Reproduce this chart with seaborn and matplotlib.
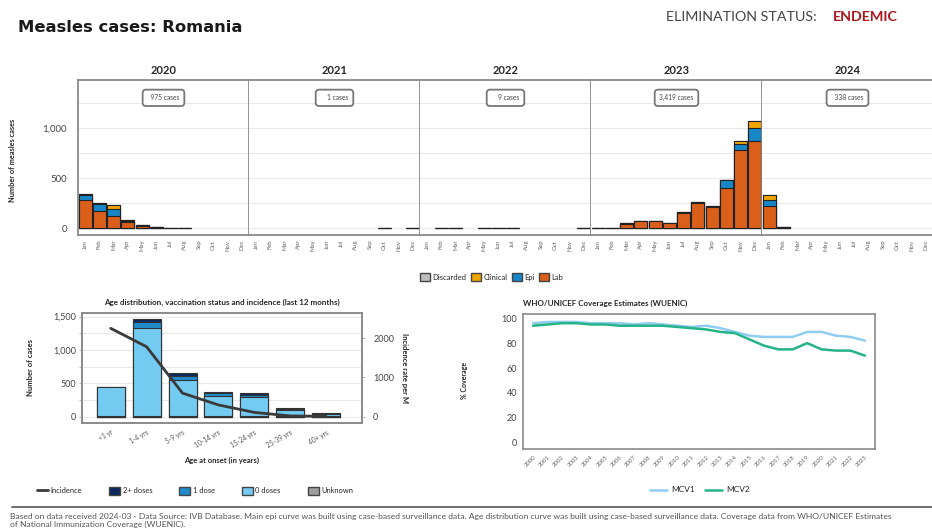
import numpy as np
import matplotlib
matplotlib.use("Agg")
import matplotlib.pyplot as plt
import seaborn as sns
from matplotlib.patches import Patch
from matplotlib.lines import Line2D

# ---- data ----
months = ["Jan", "Feb", "Mar", "Apr", "May", "Jun", "Jul", "Aug", "Sep", "Oct", "Nov", "Dec"]
years = ["2020", "2021", "2022", "2023", "2024"]
case_totals = ["975", "1", "9", "3,419", "338"]

# monthly cases, 2020..2024 (12 values per year)
lab_cases = [280, 175, 125, 65, 25, 12, 5, 5, 0, 0, 0, 0,
             0, 0, 0, 0, 0, 0, 0, 0, 0, 1, 0, 1,
             0, 2, 1, 0, 1, 2, 1, 0, 0, 0, 0, 2,
             2, 5, 45, 70, 70, 50, 155, 250, 215, 405, 780, 875,
             220, 8, 0, 0, 0, 0, 0, 0, 0, 0, 0, 0]
epi_cases = [50, 70, 65, 10, 5, 3, 0, 0, 0, 0, 0, 0,
             0, 0, 0, 0, 0, 0, 0, 0, 0, 0, 0, 0,
             0, 0, 0, 0, 0, 0, 0, 0, 0, 0, 0, 0,
             0, 0, 2, 3, 3, 3, 5, 8, 5, 75, 65, 130,
             60, 0, 0, 0, 0, 0, 0, 0, 0, 0, 0, 0]
clinical_cases = [10, 10, 40, 5, 3, 0, 0, 0, 0, 0, 0, 0,
                  0, 0, 0, 0, 0, 0, 0, 0, 0, 0, 0, 0,
                  0, 0, 0, 0, 0, 0, 0, 0, 0, 0, 0, 0,
                  0, 0, 0, 0, 0, 0, 3, 5, 0, 0, 28, 67,
                  50, 0, 0, 0, 0, 0, 0, 0, 0, 0, 0, 0]
discarded_cases = [0] * 60

age_groups = ["<1 yr", "1-4 yrs", "5-9 yrs", "10-14 yrs", "15-24 yrs", "25-39 yrs", "40+ yrs"]
unknown_dose = [10, 15, 10, 10, 10, 8, 5]
zero_doses = [440, 1320, 545, 300, 280, 95, 30]
one_dose = [0, 85, 60, 40, 40, 15, 10]
two_doses = [0, 45, 35, 25, 20, 12, 12]
incidence = [2250, 1780, 600, 300, 110, 20, 10]

cov_years = [str(y) for y in range(2000, 2024)]
mcv1 = [96, 97, 97, 97, 96, 96, 96, 95, 96, 95, 94, 93, 94, 92, 89, 86, 85, 85, 85, 89, 89, 86, 85, 82]
mcv2 = [94, 95, 96, 96, 95, 95, 94, 94, 94, 94, 93, 92, 91, 89, 88, 83, 78, 75, 75, 80, 75, 74, 74, 70]

# ---- style ----
sns.set_style("white")
plt.rcParams['font.family'] = ['Lato', 'DejaVu Sans']

C_LAB, C_EPI, C_CLIN, C_DISC = "#d95f1b", "#1787c8", "#f0a500", "#bdbdbd"
C_2D, C_1D, C_0D, C_UNK = "#0b2a5b", "#1f8ccc", "#74cbf2", "#9e9e9e"
GRID, SPINE = "#e9e9e9", "#8a8a8a"

W, H = 932, 530
fig = plt.figure(figsize=(W / 100, H / 100), dpi=100)

fig.text(18 / W, 1 - 28 / H, "Measles cases: Romania", fontsize=11.8, fontweight="bold", va="center",
         family=["DejaVu Sans"], color="#1a1a1a")
fig.text(817 / W, 1 - 17 / H, "ELIMINATION STATUS:", fontsize=10.3, color="#444444", va="center", ha="right")
fig.text(898 / W, 1 - 17 / H, "ENDEMIC", fontsize=10.3, fontweight="bold", color="#b0151b", va="center", ha="right")

# ---- epi curve, one panel per year ----
months_arr = np.array(months)
left, pw, bottom, ph = 78 / W, 171 / W, 1 - 235 / H, 155 / H
for i, yr in enumerate(years):
    ax = fig.add_axes([left + i * pw, bottom, pw, ph])
    sl = slice(i * 12, (i + 1) * 12)
    lab = np.array(lab_cases[sl])
    epi = np.array(epi_cases[sl])
    clin = np.array(clinical_cases[sl])
    disc = np.array(discarded_cases[sl])
    layers = [(lab + epi + clin + disc, C_DISC), (lab + epi + clin, C_CLIN), (lab + epi, C_EPI), (lab, C_LAB)]
    for vals, col in layers:
        mask = vals > 0
        if mask.any():
            sns.barplot(x=months_arr[mask], y=vals[mask], order=months, color=col, saturation=1,
                        edgecolor="#222222", linewidth=0.8, width=0.9, ax=ax)
    ax.set_xlim(-0.5, 11.5)
    ax.set_ylim(-70, 1480)
    ax.set_yticks(np.arange(0, 1500, 250))
    if i == 0:
        ax.set_yticklabels(["0", "", "500", "", "1,000", ""], fontsize=7, color="#444444")
    else:
        ax.set_yticklabels([])
    ax.yaxis.grid(True, color=GRID, lw=0.8)
    ax.set_axisbelow(True)
    ax.set_xticks(range(12))
    ax.set_xticklabels(months, rotation=90, fontsize=4.3, color="#666666")
    ax.tick_params(axis="x", length=2, width=0.5, color="#999999", pad=1.5)
    ax.tick_params(axis="y", length=0, pad=8)
    ax.set_xlabel("")
    ax.set_ylabel("")
    ax.set_title(yr, fontsize=8, fontweight="bold", pad=4)
    for s in ax.spines.values():
        s.set_color(SPINE)
        s.set_linewidth(1.3)
    if i > 0:
        ax.spines["left"].set_visible(False)
    ax.text(0.5, 0.885, f"{case_totals[i]:>5} cases", transform=ax.transAxes, ha="center", va="center",
            fontsize=4.8, color="#444444",
            bbox=dict(boxstyle="round,pad=0.7,rounding_size=0.5", fc="white", ec="#777777", lw=1.3))

fig.text(13 / W, 1 - 160 / H, "Number of measles cases", rotation=90, fontsize=5.3, fontweight="bold",
         va="center", ha="center")

top_handles = [Patch(fc=C_DISC, ec="#444444", label="Discarded"),
               Patch(fc=C_CLIN, ec="#444444", label="Clinical"),
               Patch(fc=C_EPI, ec="#444444", label="Epi"),
               Patch(fc=C_LAB, ec="#444444", label="Lab")]
fig.legend(handles=top_handles, loc="center", bbox_to_anchor=(492 / W, 1 - 277 / H), ncol=4, frameon=False,
           fontsize=5.5, handlelength=1.3, handleheight=1.3, columnspacing=0.6, handletextpad=0.3)

# ---- age distribution ----
ax3 = fig.add_axes([82 / W, 1 - 423 / H, 280 / W, 110 / H])
u = np.array(unknown_dose)
z = np.array(zero_doses)
o = np.array(one_dose)
t = np.array(two_doses)
for vals, col in [(u + z + o + t, C_2D), (u + z + o, C_1D), (u + z, C_0D), (u, C_UNK)]:
    sns.barplot(x=age_groups, y=vals, order=age_groups, color=col, saturation=1,
                edgecolor="#333333", linewidth=0.8, width=0.78, ax=ax3)
ax3.set_xlim(-0.8, 7.0)
ax3.set_ylim(-95, 1555)
ax3.set_yticks(np.arange(0, 1501, 250))
ax3.set_yticklabels(["0", "", "500", "", "1,000", "", "1,500"], fontsize=6.5, color="#444444")
ax3.yaxis.grid(True, color=GRID, lw=0.8)
ax3.set_axisbelow(True)
ax3.set_xticks(range(len(age_groups)))
ax3.set_xticklabels(age_groups, rotation=30, ha="right", fontsize=4.8, color="#555555", rotation_mode="anchor")
ax3.tick_params(axis="both", length=2, width=0.5, color="#999999", pad=2)
ax3.set_xlabel("Age at onset (in years)", fontsize=5.5, fontweight="bold", labelpad=6)
ax3.set_ylabel("Number of cases", fontsize=5.5, fontweight="bold", labelpad=14)
ax3.set_title("Age distribution, vaccination status and incidence (last 12 months)", fontsize=5.8,
              fontweight="bold", pad=6)
for s in ax3.spines.values():
    s.set_color(SPINE)
    s.set_linewidth(1.2)

ax3b = ax3.twinx()
sns.lineplot(x=np.arange(len(age_groups)), y=incidence, color="#3a3a3a", lw=2, ax=ax3b)
ax3b.set_ylim(-160, 2640)
ax3b.set_yticks([0, 1000, 2000])
ax3b.set_yticklabels(["0", "1000", "2000"], fontsize=6.5, color="#444444")
ax3b.tick_params(axis="y", length=2, width=0.5, color="#999999", pad=6)
ax3b.set_ylabel("Incidence rate per M", rotation=270, fontsize=5.5, fontweight="bold", labelpad=10)
for s in ax3b.spines.values():
    s.set_color(SPINE)
    s.set_linewidth(1.2)

age_handles = [Line2D([], [], color="#3a3a3a", lw=2, label="Incidence"),
               Patch(fc=C_2D, ec="#444444", label="2+ doses"),
               Patch(fc=C_1D, ec="#444444", label="1 dose"),
               Patch(fc=C_0D, ec="#444444", label="0 doses"),
               Patch(fc=C_UNK, ec="#444444", label="Unknown")]
fig.legend(handles=age_handles, loc="center", bbox_to_anchor=(195 / W, 1 - 491 / H), ncol=5, frameon=False,
           fontsize=5.4, handlelength=1.5, handleheight=1.4, columnspacing=3.6, handletextpad=0.3)

# ---- coverage ----
ax4 = fig.add_axes([523 / W, 1 - 449 / H, 352 / W, 135 / H])
sns.lineplot(x=np.arange(len(cov_years)), y=mcv1, color="#8fcdf2", lw=1.8, ax=ax4, label="MCV1")
sns.lineplot(x=np.arange(len(cov_years)), y=mcv2, color="#25b389", lw=1.8, ax=ax4, label="MCV2")
ax4.set_xlim(-0.7, 23.7)
ax4.set_ylim(-5, 103.4)
ax4.set_yticks(range(0, 101, 20))
ax4.set_yticklabels([str(v) for v in range(0, 101, 20)], fontsize=6.5, color="#444444")
ax4.set_xticks(range(len(cov_years)))
ax4.set_xticklabels(cov_years, rotation=45, ha="right", fontsize=4.3, color="#666666", rotation_mode="anchor")
ax4.tick_params(axis="both", length=2, width=0.5, color="#999999", pad=2)
ax4.set_title("WHO/UNICEF Coverage Estimates (WUENIC)", loc="left", fontsize=5.8, fontweight="bold", pad=6)
ax4.set_ylabel("")
ax4.legend_.remove()
for s in ax4.spines.values():
    s.set_color(SPINE)
    s.set_linewidth(1.2)
fig.text(465 / W, 1 - 380 / H, "% Coverage", rotation=90, fontsize=5, fontweight="bold", va="center", ha="center")

cov_handles = [Line2D([], [], color="#8fcdf2", lw=1.8, label="MCV1"),
               Line2D([], [], color="#25b389", lw=1.8, label="MCV2")]
fig.legend(handles=cov_handles, loc="center", bbox_to_anchor=(700 / W, 1 - 490 / H), ncol=2, frameon=False,
           fontsize=6, handlelength=2, columnspacing=1.2, handletextpad=0.5)

# ---- footer ----
fig.add_artist(Line2D([12 / W, 1], [1 - 507 / H, 1 - 507 / H], color="#555555", lw=1.2))
fig.text(10 / W, 1 - 516 / H,
         "Based on data received 2024-03 - Data Source: IVB Database. Main epi curve was built using case-based "
         "surveillance data. Age distribution curve was built using case-based surveillance data. Coverage data "
         "from WHO/UNICEF Estimates", fontsize=6.1, color="#555555", va="center")
fig.text(10 / W, 1 - 524.5 / H, "of National Immunization Coverage (WUENIC).", fontsize=6.1, color="#555555",
         va="center")

fig.savefig("out.png", dpi=100)
